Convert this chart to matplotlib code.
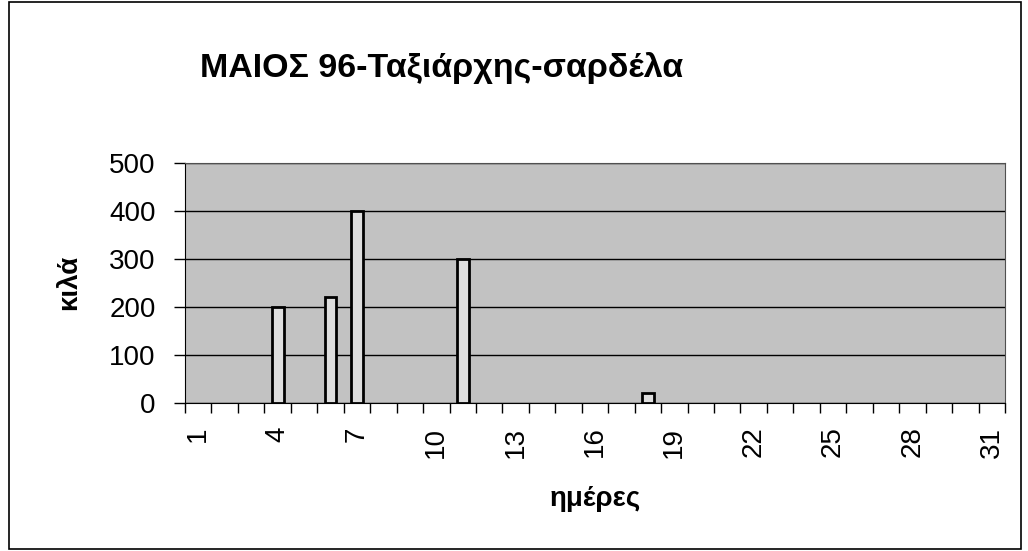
import matplotlib
matplotlib.use("Agg")
import matplotlib.pyplot as plt
from matplotlib.patches import Rectangle
import numpy as np

n_days = 31
bar_days = [4, 6, 7, 11, 18]
bar_values = [200, 220, 400, 300, 20]
yticks = [0, 100, 200, 300, 400, 500]
xtick_days = list(range(1, 32, 3))
xtick_labels = [str(d) for d in xtick_days]

plt.rcParams['font.family'] = ['Liberation Sans', 'DejaVu Sans']

fig = plt.figure(figsize=(10.28, 5.51), dpi=100)
fig.patches.append(Rectangle((9/1028, 1-549/551), 1012/1028, 547/551,
                             transform=fig.transFigure, fill=False,
                             edgecolor='black', linewidth=1.2))
ax = fig.add_axes([185/1028, 1-403/551, 820/1028, 240/551])
ax.set_facecolor('#c2c2c2')
ax.bar(bar_days, bar_values, width=0.45, color='#dedede', edgecolor='black',
       linewidth=2, zorder=3)
ax.set_xlim(0.5, n_days + 0.5)
ax.set_ylim(0, 500)
ax.set_yticks(yticks)
ax.set_yticklabels([str(v) for v in yticks], fontsize=20)
ax.yaxis.grid(True, color='black', linewidth=1)
ax.set_axisbelow(True)
ax.set_xticks(np.arange(0.5, n_days + 1, 1))
ax.set_xticklabels([])
ax.set_xticks(xtick_days, minor=True)
ax.set_xticklabels(xtick_labels, minor=True, rotation=90, fontsize=20)
ax.tick_params(axis='x', which='major', length=7.5, width=1, direction='out')
ax.tick_params(axis='x', which='minor', length=0, pad=17)
ax.tick_params(axis='y', length=8, width=1, direction='out', pad=13)
for s in ['top', 'right']:
    ax.spines[s].set_color('#505050')
ax.set_ylabel('κιλά', fontsize=20, fontweight='bold')
ax.yaxis.set_label_coords((82-185)/820, (403-282)/240)
ax.set_xlabel('ημέρες', fontsize=20, fontweight='bold')
ax.xaxis.set_label_coords((595-185)/820, (403-486)/240)
fig.text(442/1028, 1-68/551, 'ΜΑΙΟΣ 96-Ταξιάρχης-σαρδέλα', ha='center', va='center',
         fontsize=24.5, fontweight='bold')
fig.savefig('out.png', dpi=100)
